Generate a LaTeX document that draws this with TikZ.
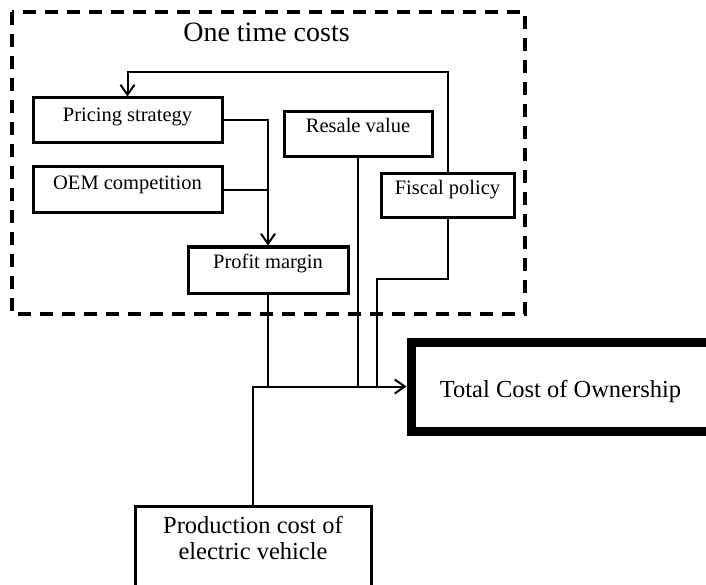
\documentclass[tikz,border=0pt]{standalone}
\usepackage{fontspec}
\setmainfont{Liberation Serif}
\usetikzlibrary{arrows.meta}

\tikzset{
  box/.style={draw=black, line width=3pt, rectangle, inner sep=0pt},
  lbl/.style={anchor=base, inner sep=0pt, font=\fontsize{20.5}{24}\selectfont},
  conn/.style={draw=black, line width=2pt},
  arr/.style={conn, -{Straight Barb[length=10pt,width=14pt,line width=2pt]}},
  group/.style={draw=black, line width=3.3pt, dash pattern=on 13pt off 9pt},
}

\begin{document}
\begin{tikzpicture}[x=1pt, y=-1pt]
  \useasboundingbox (0,0) rectangle (706,585);
  \clip (0,0) rectangle (706,585);

  % group of one-off cost factors
  \draw[group] (12,12) rectangle (525,314);
  \node[anchor=base, inner sep=0pt, font=\fontsize{28}{32}\selectfont] (title) at (266.5,42) {One time costs};

  % factor boxes
  \node[box, minimum width=189pt, minimum height=45pt] (ps) at (127.5,120.5) {};
  \node[lbl] (pst) at (127.5,122) {Pricing strategy};

  \node[box, minimum width=189pt, minimum height=46pt] (oem) at (127.5,190) {};
  \node[lbl] (oemt) at (127.5,190) {OEM competition};

  \node[box, minimum width=160pt, minimum height=46pt] (pm) at (268,270) {};
  \node[lbl] (pmt) at (268,268) {Profit margin};

  \node[box, minimum width=148pt, minimum height=45pt] (rv) at (358,134.5) {};
  \node[lbl] (rvt) at (358,133) {Resale value};

  \node[box, minimum width=133pt, minimum height=44pt] (fp) at (447.5,196) {};
  \node[lbl] (fpt) at (447.5,195) {Fiscal policy};

  % outcome and production boxes
  \node[box, line width=9pt, minimum width=309pt, minimum height=89pt] (tco) at (565.5,386.5) {};
  \node[anchor=base, inner sep=0pt, font=\fontsize{24.5}{28}\selectfont] (tcot) at (560.5,397) {Total Cost of Ownership};

  \node[box, minimum width=236pt, minimum height=94pt] (pc) at (253,553) {};
  \node[anchor=base, inner sep=0pt, align=center, font=\fontsize{24.5}{26}\selectfont] (pct) at (253,559) {Production cost of\\electric vehicle};

  % connectors
  \coordinate (fbk) at (447.5,72);
  \coordinate (fjog) at (447.5,279);
  \coordinate (fdrop) at (377,387);
  \coordinate (bus) at (0,386.5);

  \draw[arr] (ps.east) -| (pm.north);
  \draw[conn] (oem.east) -- (oem.east -| pm.north);
  \draw[arr] (fp.north) -- (fbk) -| (ps.north);
  \draw[conn] (pm.south) -- (pm.south |- bus);
  \draw[conn] (rv.south) -- (rv.south |- bus);
  \draw[conn] (fp.south) -- (fjog) -| (fdrop |- bus);
  \draw[arr] (pc.north) |- (tco.west);
\end{tikzpicture}
\end{document}
